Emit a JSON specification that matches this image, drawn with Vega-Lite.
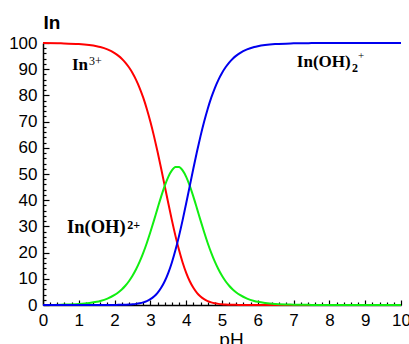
{
  "$schema": "https://vega.github.io/schema/vega-lite/v6.json",
  "width": 358,
  "height": 262,
  "autosize": "none",
  "padding": {"left": 43, "top": 43, "right": 8, "bottom": 39},
  "background": "white",
  "config": {
    "view": {"stroke": null},
    "axis": {"grid": false, "domainColor": "black", "tickColor": "black", "labelColor": "black", "titleColor": "black", "domainWidth": 1.5, "tickWidth": 1.2, "labelFont": "Liberation Sans Narrow, Liberation Sans", "labelFontSize": 17, "titleFont": "Liberation Sans", "titleFontWeight": "normal"},
    "text": {"font": "Liberation Serif", "color": "black", "align": "left", "baseline": "alphabetic"}
  },
  "data": {"values": [
    {"pH": 0, "r": 99.96, "g": 0.04, "b": 0},
    {"pH": 0.5, "r": 99.87, "g": 0.13, "b": 0},
    {"pH": 1, "r": 99.6, "g": 0.4, "b": 0},
    {"pH": 1.5, "r": 98.75, "g": 1.24, "b": 0},
    {"pH": 1.6, "r": 98.44, "g": 1.56, "b": 0.01},
    {"pH": 1.8, "r": 97.54, "g": 2.45, "b": 0.01},
    {"pH": 2.0, "r": 96.14, "g": 3.83, "b": 0.03},
    {"pH": 2.1, "r": 95.18, "g": 4.77, "b": 0.05},
    {"pH": 2.2, "r": 94.0, "g": 5.93, "b": 0.07},
    {"pH": 2.3, "r": 92.53, "g": 7.35, "b": 0.12},
    {"pH": 2.4, "r": 90.74, "g": 9.07, "b": 0.18},
    {"pH": 2.5, "r": 88.57, "g": 11.15, "b": 0.28},
    {"pH": 2.6, "r": 85.95, "g": 13.62, "b": 0.43},
    {"pH": 2.7, "r": 82.82, "g": 16.52, "b": 0.66},
    {"pH": 2.8, "r": 79.13, "g": 19.88, "b": 1.0},
    {"pH": 2.9, "r": 74.84, "g": 23.67, "b": 1.49},
    {"pH": 3.0, "r": 69.94, "g": 27.85, "b": 2.21},
    {"pH": 3.1, "r": 64.46, "g": 32.31, "b": 3.23},
    {"pH": 3.2, "r": 58.47, "g": 36.89, "b": 4.64},
    {"pH": 3.3, "r": 52.08, "g": 41.37, "b": 6.56},
    {"pH": 3.4, "r": 45.46, "g": 45.46, "b": 9.07},
    {"pH": 3.5, "r": 38.83, "g": 48.89, "b": 12.28},
    {"pH": 3.6, "r": 32.4, "g": 51.36, "b": 16.24},
    {"pH": 3.7, "r": 26.39, "g": 52.65, "b": 20.96},
    {"pH": 3.8, "r": 20.96, "g": 52.65, "b": 26.39},
    {"pH": 3.9, "r": 16.24, "g": 51.36, "b": 32.4},
    {"pH": 4.0, "r": 12.28, "g": 48.89, "b": 38.83},
    {"pH": 4.1, "r": 9.07, "g": 45.46, "b": 45.46},
    {"pH": 4.2, "r": 6.56, "g": 41.37, "b": 52.08},
    {"pH": 4.3, "r": 4.64, "g": 36.89, "b": 58.47},
    {"pH": 4.4, "r": 3.23, "g": 32.31, "b": 64.46},
    {"pH": 4.5, "r": 2.21, "g": 27.85, "b": 69.94},
    {"pH": 4.6, "r": 1.49, "g": 23.67, "b": 74.84},
    {"pH": 4.7, "r": 1.0, "g": 19.88, "b": 79.13},
    {"pH": 4.8, "r": 0.66, "g": 16.52, "b": 82.82},
    {"pH": 4.9, "r": 0.43, "g": 13.62, "b": 85.95},
    {"pH": 5.0, "r": 0.28, "g": 11.15, "b": 88.57},
    {"pH": 5.1, "r": 0.18, "g": 9.07, "b": 90.74},
    {"pH": 5.2, "r": 0.12, "g": 7.35, "b": 92.53},
    {"pH": 5.3, "r": 0.07, "g": 5.93, "b": 94.0},
    {"pH": 5.4, "r": 0.05, "g": 4.77, "b": 95.18},
    {"pH": 5.5, "r": 0.03, "g": 3.83, "b": 96.14},
    {"pH": 5.7, "r": 0.01, "g": 2.45, "b": 97.54},
    {"pH": 5.9, "r": 0.01, "g": 1.56, "b": 98.44},
    {"pH": 6.0, "r": 0, "g": 1.24, "b": 98.76},
    {"pH": 6.5, "r": 0, "g": 0.4, "b": 99.6},
    {"pH": 7.0, "r": 0, "g": 0.13, "b": 99.87},
    {"pH": 7.5, "r": 0, "g": 0.04, "b": 99.96},
    {"pH": 8.0, "r": 0, "g": 0.01, "b": 99.99},
    {"pH": 9.0, "r": 0, "g": 0, "b": 100},
    {"pH": 10.0, "r": 0, "g": 0, "b": 100}
  ]},
  "layer": [
    {
      "transform": [{"fold": ["r", "g", "b"], "as": ["species", "pct"]}],
      "mark": {"type": "line", "strokeWidth": 2, "interpolate": "monotone"},
      "encoding": {
        "x": {"field": "pH", "type": "quantitative", "scale": {"domain": [0, 10], "nice": false},
              "axis": {"orient": "bottom", "values": [0,1,2,3,4,5,6,7,8,9,10], "tickSize": -5, "labelPadding": 12, "labelFlush": false, "labelOverlap": false, "title": "pH", "titleFontSize": 19, "titleX": 188, "titleY": 40, "titleBaseline": "alphabetic", "titleAnchor": null, "titleAlign": "center"}},
        "y": {"field": "pct", "type": "quantitative", "scale": {"domain": [0, 100], "nice": false},
              "axis": {"orient": "left", "values": [0,10,20,30,40,50,60,70,80,90,100], "tickSize": -6, "labelPadding": 12, "labelFlush": false, "labelOverlap": false, "title": "In", "titleAngle": 0, "titleFontSize": 19, "titleFontWeight": "bold", "titleX": 0, "titleY": -15, "titleAlign": "left", "titleBaseline": "alphabetic", "titleAnchor": null}},
        "color": {"field": "species", "type": "nominal", "scale": {"domain": ["r", "g", "b"], "range": ["#ff0000", "#11ee11", "#0000ee"]}, "legend": null}
      }
    },
    {
      "data": {"values": [{}]},
      "mark": {"type": "text", "text": "In", "fontSize": 17, "fontWeight": "bold"},
      "encoding": {
        "x": {"datum": 0.81, "type": "quantitative", "scale": {"domain": [0, 10], "nice": false},
              "axis": {"orient": "bottom", "values": [0.2,0.4,0.6,0.8,1.2,1.4,1.6,1.8,2.2,2.4,2.6,2.8,3.2,3.4,3.6,3.8,4.2,4.4,4.6,4.8,5.2,5.4,5.6,5.8,6.2,6.4,6.6,6.8,7.2,7.4,7.6,7.8,8.2,8.4,8.6,8.8,9.2,9.4,9.6,9.8], "tickSize": -3, "labels": false, "domain": false, "title": null}},
        "y": {"datum": 89.7, "type": "quantitative", "scale": {"domain": [0, 100], "nice": false},
              "axis": {"orient": "left", "values": [2,4,6,8,12,14,16,18,22,24,26,28,32,34,36,38,42,44,46,48,52,54,56,58,62,64,66,68,72,74,76,78,82,84,86,88,92,94,96,98], "tickSize": -3, "labels": false, "domain": false, "title": null}}
      }
    },
    {
      "data": {"values": [{}]},
      "mark": {"type": "text", "text": "3+", "fontSize": 12},
      "encoding": {
        "x": {"datum": 1.285, "type": "quantitative", "scale": {"domain": [0, 10], "nice": false}, "axis": null},
        "y": {"datum": 91.6, "type": "quantitative", "scale": {"domain": [0, 100], "nice": false}, "axis": null}
      }
    },
    {
      "data": {"values": [{}]},
      "mark": {"type": "text", "text": "In(OH)", "fontSize": 18.5, "fontWeight": "bold"},
      "encoding": {
        "x": {"datum": 0.67, "type": "quantitative", "scale": {"domain": [0, 10], "nice": false}, "axis": null},
        "y": {"datum": 27.5, "type": "quantitative", "scale": {"domain": [0, 100], "nice": false}, "axis": null}
      }
    },
    {
      "data": {"values": [{}]},
      "mark": {"type": "text", "text": "2+", "fontSize": 12, "fontWeight": "bold"},
      "encoding": {
        "x": {"datum": 2.35, "type": "quantitative", "scale": {"domain": [0, 10], "nice": false}, "axis": null},
        "y": {"datum": 29, "type": "quantitative", "scale": {"domain": [0, 100], "nice": false}, "axis": null}
      }
    },
    {
      "data": {"values": [{}]},
      "mark": {"type": "text", "text": "In(OH)", "fontSize": 17, "fontWeight": "bold"},
      "encoding": {
        "x": {"datum": 7.09, "type": "quantitative", "scale": {"domain": [0, 10], "nice": false}, "axis": null},
        "y": {"datum": 90.8, "type": "quantitative", "scale": {"domain": [0, 100], "nice": false}, "axis": null}
      }
    },
    {
      "data": {"values": [{}]},
      "mark": {"type": "text", "text": "2", "fontSize": 12, "fontWeight": "bold"},
      "encoding": {
        "x": {"datum": 8.63, "type": "quantitative", "scale": {"domain": [0, 10], "nice": false}, "axis": null},
        "y": {"datum": 88.9, "type": "quantitative", "scale": {"domain": [0, 100], "nice": false}, "axis": null}
      }
    },
    {
      "data": {"values": [{}]},
      "mark": {"type": "text", "text": "+", "fontSize": 11},
      "encoding": {
        "x": {"datum": 8.8, "type": "quantitative", "scale": {"domain": [0, 10], "nice": false}, "axis": null},
        "y": {"datum": 93.9, "type": "quantitative", "scale": {"domain": [0, 100], "nice": false}, "axis": null}
      }
    }
  ],
  "resolve": {"axis": {"x": "independent", "y": "independent"}}
}
